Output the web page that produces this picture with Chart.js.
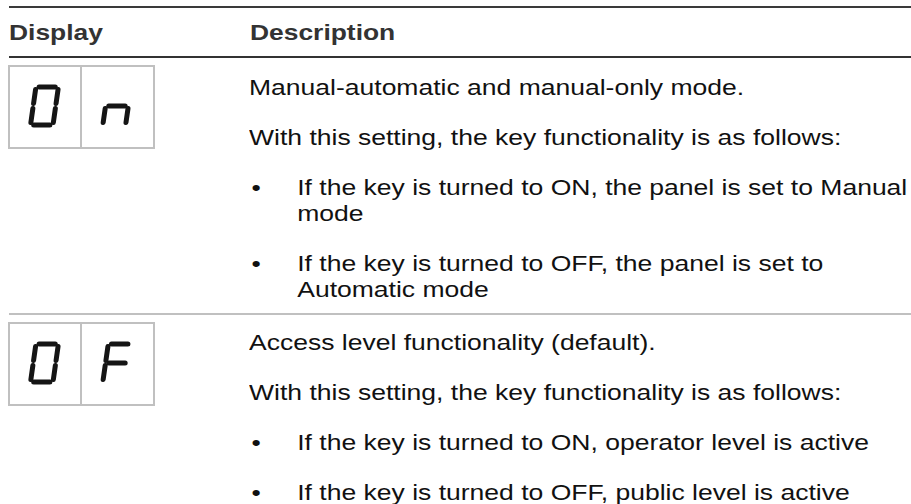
<!DOCTYPE html>
<html>
<head>
<meta charset="utf-8">
<script src="https://cdn.jsdelivr.net/npm/chart.js@4.4.0/dist/chart.umd.min.js"></script>
<style>
  html, body { margin: 0; padding: 0; background: #fff; }
  body { width: 911px; height: 504px; position: relative; overflow: hidden;
         font-family: "Liberation Sans", Arial, sans-serif; color: #111; }
  .rule { position: absolute; left: 9px; right: 0; }
  .rule.top { top: 6px; height: 2px; background: #3a3a3a; }
  .rule.head { top: 56px; height: 2px; background: #333; }
  .rule.sep { top: 313px; height: 2px; background: #c0c0c0; }
  .th { position: absolute; top: 20px; font-weight: bold; font-size: 22px;
        line-height: 26px; color: #333; transform: scaleX(1.2); transform-origin: 0 0; }
  .box { position: absolute; left: 8px; width: 147px; height: 84px;
         border: 2px solid #c0c0c0; box-sizing: border-box; display: flex; }
  .box canvas { display: block; }
  .box .cell:first-child { border-right: 2px solid #c0c0c0; }
  .desc { position: absolute; left: 249px; font-size: 22px; line-height: 26px;
          transform: scaleX(1.205); transform-origin: 0 0; }
  .desc p { margin: 0 0 24px 0; white-space: nowrap; }
  .desc p.b { position: relative; padding-left: 40px; }
  .desc p.b::before { content: "\2022"; position: absolute; left: 2px; top: 0; }
</style>
</head>
<body>
<div class="rule top"></div>
<div class="th" style="left:9px">Display</div>
<div class="th" style="left:250px">Description</div>
<div class="rule head"></div>
<div class="rule sep"></div>
<div id="rows"></div>

<script>
// displays shown in the left column, one pair per row
const displayRows = [["0", "n"], ["0", "F"]];
const boxTops = [65, 322];
const descTops = [75, 330];

// description text per row: [text, isBullet]
const rowText = [
  [
    ["Manual-automatic and manual-only mode.", false],
    ["With this setting, the key functionality is as follows:", false],
    ["If the key is turned to ON, the panel is set to Manual<br>mode", true],
    ["If the key is turned to OFF, the panel is set to<br>Automatic mode", true],
  ],
  [
    ["Access level functionality (default).", false],
    ["With this setting, the key functionality is as follows:", false],
    ["If the key is turned to ON, operator level is active", true],
    ["If the key is turned to OFF, public level is active", true],
  ],
];

// seven segment layout, unit cell x 0..1, y 0..2
const segmentEnds = {
  a: [[0.14, 2], [0.86, 2]],
  b: [[1, 1.87], [1, 1.13]],
  c: [[1, 0.87], [1, 0.13]],
  d: [[0.14, 0], [0.86, 0]],
  e: [[0, 0.87], [0, 0.13]],
  f: [[0, 1.87], [0, 1.13]],
  g: [[0.14, 1], [0.86, 1]],
};
const litSegments = {
  "0": ["a", "b", "c", "d", "e", "f"],
  n: ["c", "e", "g"],
  F: ["a", "e", "f", "g"],
};
const slant = 0.12;

function glyphChart(canvas, ch) {
  const datasets = litSegments[ch].map((s) => ({
    data: segmentEnds[s].map(([x, y]) => ({ x: x + slant * y, y: y })),
    showLine: true,
    borderColor: "#151515",
    borderWidth: 5,
    borderCapStyle: "round",
    pointRadius: 0,
  }));
  new Chart(canvas, {
    type: "scatter",
    data: { datasets },
    options: {
      responsive: false,
      animation: false,
      events: [],
      layout: { padding: 0 },
      plugins: { legend: { display: false }, tooltip: { enabled: false } },
      scales: {
        x: { display: false, min: -0.913, max: 2.2 },
        y: { display: false, min: -1.16, max: 3.05 },
      },
    },
  });
}

const rows = document.getElementById("rows");
displayRows.forEach((pair, i) => {
  const box = document.createElement("div");
  box.className = "box";
  box.style.top = boxTops[i] + "px";
  pair.forEach((ch, j) => {
    const cell = document.createElement("div");
    cell.className = "cell";
    const c = document.createElement("canvas");
    c.width = j === 0 ? 70 : 71;
    c.height = 80;
    cell.appendChild(c);
    box.appendChild(cell);
    glyphChart(c, ch);
  });
  rows.appendChild(box);

  const desc = document.createElement("div");
  desc.className = "desc";
  desc.style.top = descTops[i] + "px";
  rowText[i].forEach(([t, bullet]) => {
    const p = document.createElement("p");
    if (bullet) p.className = "b";
    p.innerHTML = t;
    desc.appendChild(p);
  });
  rows.appendChild(desc);
});
</script>
</body>
</html>
